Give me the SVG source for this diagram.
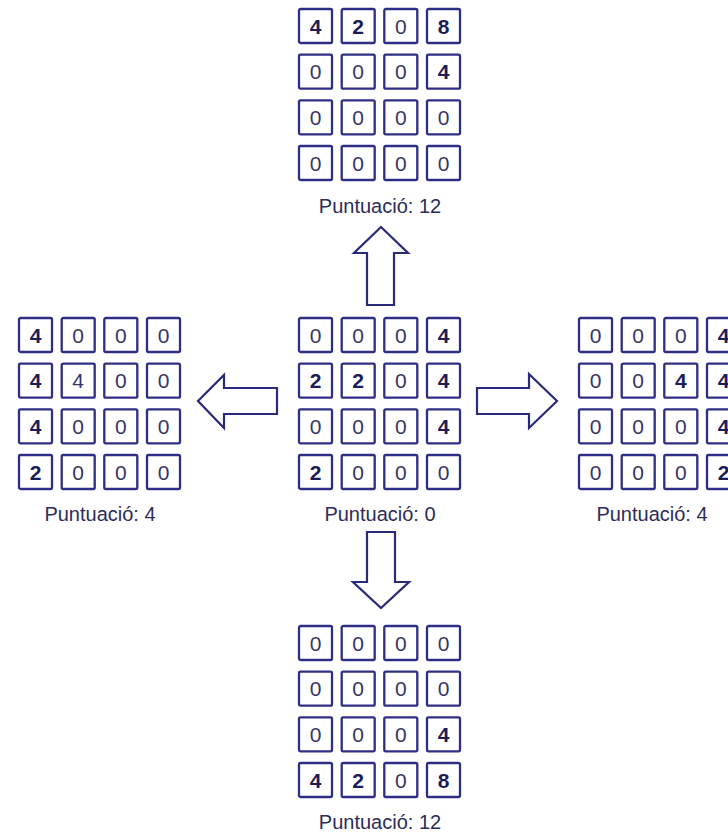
<svg xmlns="http://www.w3.org/2000/svg" width="728" height="834" viewBox="0 0 728 834">
<style>
.c{fill:#fff;stroke:#2e2e85;stroke-width:2.3}
.d{font-family:"Liberation Sans",Arial,sans-serif;font-size:21px;text-anchor:middle;fill:#363666}
.b{font-weight:bold;fill:#1c1c5a}
.l{font-family:"Liberation Sans",Arial,sans-serif;font-size:20px;text-anchor:middle;fill:#2c2c58}
.a{fill:#fff;stroke:#2a2a7a;stroke-width:2.2;stroke-linejoin:miter}
</style>
<defs>
<g id="cells">
<rect class="c" x="0" y="0" width="33" height="34" rx="1.5"/><rect class="c" x="42.7" y="0" width="33" height="34" rx="1.5"/><rect class="c" x="85.3" y="0" width="33" height="34" rx="1.5"/><rect class="c" x="128" y="0" width="33" height="34" rx="1.5"/>
<rect class="c" x="0" y="45.7" width="33" height="34" rx="1.5"/><rect class="c" x="42.7" y="45.7" width="33" height="34" rx="1.5"/><rect class="c" x="85.3" y="45.7" width="33" height="34" rx="1.5"/><rect class="c" x="128" y="45.7" width="33" height="34" rx="1.5"/>
<rect class="c" x="0" y="91.3" width="33" height="34" rx="1.5"/><rect class="c" x="42.7" y="91.3" width="33" height="34" rx="1.5"/><rect class="c" x="85.3" y="91.3" width="33" height="34" rx="1.5"/><rect class="c" x="128" y="91.3" width="33" height="34" rx="1.5"/>
<rect class="c" x="0" y="137" width="33" height="34" rx="1.5"/><rect class="c" x="42.7" y="137" width="33" height="34" rx="1.5"/><rect class="c" x="85.3" y="137" width="33" height="34" rx="1.5"/><rect class="c" x="128" y="137" width="33" height="34" rx="1.5"/>
</g>
</defs>
<g id="connectors">
<polygon class="a" points="381,227 408,253 394,253 394,305 367,305 367,253 354,253"/>
<polygon class="a" points="367,532 395,532 395,582 409,582 381,608 353,582 367,582"/>
<polygon class="a" points="198,401 224,375 224,388 277,388 277,414 224,414 224,428"/>
<polygon class="a" points="477,388 529,388 529,374 557,401 529,428 529,414 477,414"/>
</g>
<g id="top" transform="translate(299,9)">
<use href="#cells"/>
<text class="d b" x="16.5" y="24.5">4</text><text class="d b" x="59.2" y="24.5">2</text><text class="d" x="101.8" y="24.5">0</text><text class="d b" x="144.5" y="24.5">8</text>
<text class="d" x="16.5" y="70.2">0</text><text class="d" x="59.2" y="70.2">0</text><text class="d" x="101.8" y="70.2">0</text><text class="d b" x="144.5" y="70.2">4</text>
<text class="d" x="16.5" y="115.8">0</text><text class="d" x="59.2" y="115.8">0</text><text class="d" x="101.8" y="115.8">0</text><text class="d" x="144.5" y="115.8">0</text>
<text class="d" x="16.5" y="161.5">0</text><text class="d" x="59.2" y="161.5">0</text><text class="d" x="101.8" y="161.5">0</text><text class="d" x="144.5" y="161.5">0</text>
<text class="l" x="81" y="204">Puntuació: 12</text>
</g>
<g id="center" transform="translate(299,318)">
<use href="#cells"/>
<text class="d" x="16.5" y="24.5">0</text><text class="d" x="59.2" y="24.5">0</text><text class="d" x="101.8" y="24.5">0</text><text class="d b" x="144.5" y="24.5">4</text>
<text class="d b" x="16.5" y="70.2">2</text><text class="d b" x="59.2" y="70.2">2</text><text class="d" x="101.8" y="70.2">0</text><text class="d b" x="144.5" y="70.2">4</text>
<text class="d" x="16.5" y="115.8">0</text><text class="d" x="59.2" y="115.8">0</text><text class="d" x="101.8" y="115.8">0</text><text class="d b" x="144.5" y="115.8">4</text>
<text class="d b" x="16.5" y="161.5">2</text><text class="d" x="59.2" y="161.5">0</text><text class="d" x="101.8" y="161.5">0</text><text class="d" x="144.5" y="161.5">0</text>
<text class="l" x="81" y="203">Puntuació: 0</text>
</g>
<g id="left" transform="translate(19,318)">
<use href="#cells"/>
<text class="d b" x="16.5" y="24.5">4</text><text class="d" x="59.2" y="24.5">0</text><text class="d" x="101.8" y="24.5">0</text><text class="d" x="144.5" y="24.5">0</text>
<text class="d b" x="16.5" y="70.2">4</text><text class="d" x="59.2" y="70.2">4</text><text class="d" x="101.8" y="70.2">0</text><text class="d" x="144.5" y="70.2">0</text>
<text class="d b" x="16.5" y="115.8">4</text><text class="d" x="59.2" y="115.8">0</text><text class="d" x="101.8" y="115.8">0</text><text class="d" x="144.5" y="115.8">0</text>
<text class="d b" x="16.5" y="161.5">2</text><text class="d" x="59.2" y="161.5">0</text><text class="d" x="101.8" y="161.5">0</text><text class="d" x="144.5" y="161.5">0</text>
<text class="l" x="81" y="203">Puntuació: 4</text>
</g>
<g id="right" transform="translate(579,318)">
<use href="#cells"/>
<text class="d" x="16.5" y="24.5">0</text><text class="d" x="59.2" y="24.5">0</text><text class="d" x="101.8" y="24.5">0</text><text class="d b" x="144.5" y="24.5">4</text>
<text class="d" x="16.5" y="70.2">0</text><text class="d" x="59.2" y="70.2">0</text><text class="d b" x="101.8" y="70.2">4</text><text class="d b" x="144.5" y="70.2">4</text>
<text class="d" x="16.5" y="115.8">0</text><text class="d" x="59.2" y="115.8">0</text><text class="d" x="101.8" y="115.8">0</text><text class="d b" x="144.5" y="115.8">4</text>
<text class="d" x="16.5" y="161.5">0</text><text class="d" x="59.2" y="161.5">0</text><text class="d" x="101.8" y="161.5">0</text><text class="d b" x="144.5" y="161.5">2</text>
<text class="l" x="73" y="203">Puntuació: 4</text>
</g>
<g id="bottom" transform="translate(299,626)">
<use href="#cells"/>
<text class="d" x="16.5" y="24.5">0</text><text class="d" x="59.2" y="24.5">0</text><text class="d" x="101.8" y="24.5">0</text><text class="d" x="144.5" y="24.5">0</text>
<text class="d" x="16.5" y="70.2">0</text><text class="d" x="59.2" y="70.2">0</text><text class="d" x="101.8" y="70.2">0</text><text class="d" x="144.5" y="70.2">0</text>
<text class="d" x="16.5" y="115.8">0</text><text class="d" x="59.2" y="115.8">0</text><text class="d" x="101.8" y="115.8">0</text><text class="d b" x="144.5" y="115.8">4</text>
<text class="d b" x="16.5" y="161.5">4</text><text class="d b" x="59.2" y="161.5">2</text><text class="d" x="101.8" y="161.5">0</text><text class="d b" x="144.5" y="161.5">8</text>
<text class="l" x="81" y="203">Puntuació: 12</text>
</g>
</svg>
